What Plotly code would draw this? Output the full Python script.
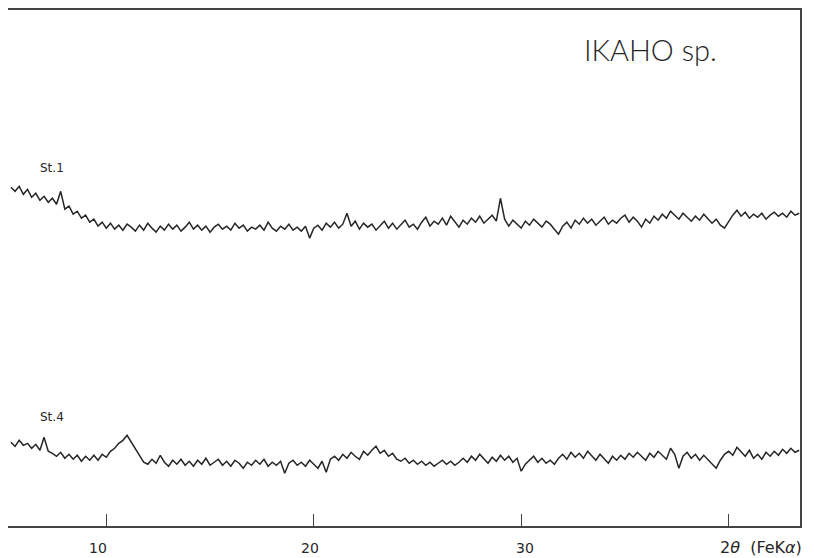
import plotly.graph_objects as go

# 2-theta sampling grid (degrees, FeKa), 0.2 deg steps
two_theta_start = 5.4
two_theta_step = 0.2

# St.1 intensity (arbitrary units)
st1 = [340, 336, 341, 333, 338, 330, 334, 327, 331, 325,
       329, 323, 336, 318, 321, 313, 316, 309, 312, 305,
       308, 301, 305, 299, 304, 298, 302, 297, 303, 300,
       296, 302, 297, 304, 299, 295, 301, 297, 303, 298,
       302, 296, 300, 305, 298, 302, 297, 301, 295, 300,
       303, 298, 301, 297, 304, 299, 302, 296, 300, 298,
       302, 297, 305, 299, 296, 301, 298, 303, 297, 300,
       296, 301, 289, 299, 302, 297, 304, 300, 305, 299,
       303, 314, 301, 306, 298, 304, 300, 303, 297, 302,
       306, 299, 304, 298, 302, 307, 300, 303, 298, 305,
       310, 301, 306, 303, 309, 302, 311, 305, 300, 307,
       303, 309, 305, 311, 304, 308, 312, 306, 329, 308,
       301, 307, 303, 299, 306, 302, 308, 304, 300, 306,
       303, 298, 293, 301, 305, 299, 307, 303, 309, 304,
       308, 302, 306, 310, 303, 307, 304, 309, 312, 305,
       310, 306, 300, 308, 304, 311, 307, 313, 309, 316,
       312, 308, 314, 310, 306, 311, 307, 313, 309, 304,
       308, 302, 299, 306, 312, 317, 311, 315, 309, 313,
       310, 314, 308, 312, 315, 311, 314, 310, 316, 312,
       314]

# St.4 intensity (arbitrary units)
st4 = [84, 80, 86, 81, 83, 78, 82, 76, 89, 75,
       73, 70, 74, 68, 72, 67, 71, 65, 70, 66,
       71, 66, 72, 69, 75, 78, 83, 86, 91, 84,
       78, 70, 64, 62, 67, 63, 71, 64, 60, 66,
       62, 67, 61, 65, 60, 66, 62, 68, 61, 64,
       67, 61, 65, 60, 66, 63, 58, 64, 61, 66,
       62, 67, 60, 64, 61, 65, 53, 63, 66, 61,
       64, 60, 66, 62, 58, 65, 54, 67, 70, 66,
       72, 68, 74, 70, 67, 75, 71, 76, 80, 73,
       76, 70, 73, 67, 65, 68, 63, 66, 62, 65,
       61, 64, 60, 63, 66, 62, 65, 61, 64, 68,
       64, 70, 66, 72, 67, 63, 69, 65, 71, 66,
       70, 64, 68, 55, 62, 66, 70, 64, 68, 63,
       66, 62, 68, 72, 67, 74, 69, 73, 68, 75,
       70, 66, 72, 68, 63, 70, 66, 71, 67, 73,
       69, 74, 70, 66, 73, 69, 75, 71, 67, 78,
       72, 58, 70, 74, 68, 72, 66, 71, 67, 63,
       58, 66, 72, 75, 71, 79, 74, 70, 76, 68,
       72, 67, 74, 70, 75, 71, 77, 73, 78, 74,
       76]

tick_vals = [10, 20, 30, 40]
tick_labels = ["10", "20", "30"]
tick_label_x = [9.6, 19.8, 30.2]

two_theta = [round(two_theta_start + two_theta_step * i, 1) for i in range(len(st1))]

ink = "#262626"
fig = go.Figure()
fig.add_trace(go.Scatter(x=two_theta, y=st1, mode="lines",
                         line=dict(color=ink, width=1.5), showlegend=False))
fig.add_trace(go.Scatter(x=two_theta, y=st4, mode="lines",
                         line=dict(color=ink, width=1.5), showlegend=False))

fig.update_layout(
    width=806, height=550,
    margin=dict(l=0, r=14, t=0, b=32),
    paper_bgcolor="white", plot_bgcolor="white",
    xaxis=dict(range=[5.26, 43.44], showgrid=False, zeroline=False,
               showline=True, linecolor="#444444", linewidth=1.5, mirror=True,
               tickmode="array", tickvals=tick_vals, ticks="inside",
               ticklen=12, tickwidth=1.3, tickcolor="#444444",
               showticklabels=False),
    yaxis=dict(range=[0, 518], showgrid=False, zeroline=False,
               showline=True, linecolor="#444444", linewidth=1.5, mirror=True,
               ticks="", showticklabels=False),
)

font_main = "DejaVu Sans"
label_y = -22 / 518
for lab, xx in zip(tick_labels, tick_label_x):
    fig.add_annotation(x=xx, y=label_y, xref="x", yref="paper", text=lab,
                       showarrow=False, font=dict(family=font_main, size=14, color=ink),
                       yanchor="middle")

fig.add_annotation(x=1.0, y=label_y, xref="paper", yref="paper",
                   text="2<i>θ</i>  (FeK<i>α</i>)", showarrow=False, xanchor="right",
                   font=dict(family=font_main, size=16, color=ink), yanchor="middle",
                   xshift=4)
fig.add_annotation(x=6.7, y=359, xref="x", yref="y", text="St.1", showarrow=False,
                   xanchor="left", font=dict(family=font_main, size=12, color=ink))
fig.add_annotation(x=6.7, y=109, xref="x", yref="y", text="St.4", showarrow=False,
                   xanchor="left", font=dict(family=font_main, size=12, color=ink))
fig.add_annotation(x=32.95, y=478, xref="x", yref="y", text="IKAHO sp.", showarrow=False,
                   xanchor="left", font=dict(family="Lato", size=29, color=ink, weight=300))

fig.write_html("out.html")
